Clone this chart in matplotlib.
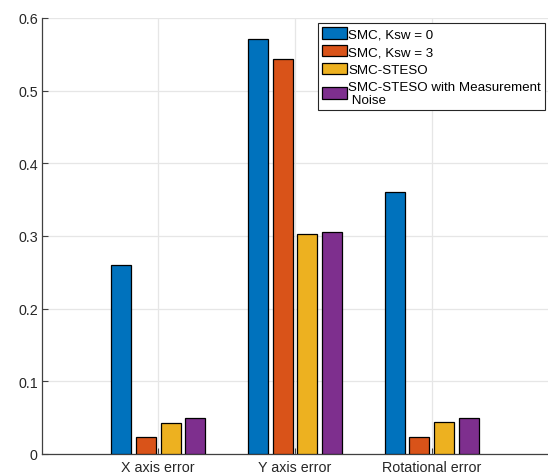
import matplotlib
matplotlib.use("Agg")
import matplotlib.pyplot as plt
import numpy as np

plt.rcParams['font.family'] = ['Liberation Sans', 'DejaVu Sans']

categories = ["X axis error", "Y axis error", "Rotational error"]
series_names = ["SMC, Ksw = 0", "SMC, Ksw = 3", "SMC-STESO",
                "SMC-STESO with Measurement\n Noise"]
smc_ksw0 = [0.260, 0.571, 0.360]
smc_ksw3 = [0.024, 0.544, 0.023]
smc_steso = [0.043, 0.303, 0.044]
smc_steso_noise = [0.049, 0.306, 0.050]
colors = ["#0072BD", "#D95319", "#EDB120", "#7E2F8E"]

series = [smc_ksw0, smc_ksw3, smc_steso, smc_steso_noise]

fig = plt.figure(figsize=(5.48, 4.77), dpi=100)
ax = fig.add_axes([42/548, 1-455/477, 1-42/548, (455-19)/477])

x = np.arange(1, len(categories)+1)
step = 0.181
width = 0.145
for i, (vals, c, name) in enumerate(zip(series, colors, series_names)):
    ax.bar(x + (i-1.5)*step, vals, width, color=c, edgecolor='black',
           linewidth=0.9, label=name, zorder=3)

ax.set_xlim(0.15, 3.85)
ax.set_ylim(0, 0.6)
ax.set_xticks(x)
ax.set_xticklabels(categories)
ax.set_yticks([0, 0.1, 0.2, 0.3, 0.4, 0.5, 0.6])
ax.set_yticklabels(["0", "0.1", "0.2", "0.3", "0.4", "0.5", "0.6"])
ax.grid(True, color='#e6e6e6', linewidth=0.9, zorder=0)
ax.set_axisbelow(True)
for s in ['top', 'right']:
    ax.spines[s].set_visible(False)
for s in ['left', 'bottom']:
    ax.spines[s].set_color('#404040')
    ax.spines[s].set_linewidth(0.9)
ax.tick_params(direction='in', length=4, width=0.8, colors='#404040',
               labelcolor='#262626', labelsize=10.3)
ax.tick_params(axis='x', pad=4.5)
ax.tick_params(axis='y', pad=3)

leg = ax.legend(loc='upper left', bbox_to_anchor=(318/548, 1-24/477),
                bbox_transform=fig.transFigure, fontsize=9.6,
                frameon=True, fancybox=False, framealpha=1,
                edgecolor='#262626', handlelength=1.85, handleheight=0.95,
                handletextpad=0.1, labelspacing=0.34, borderpad=0.3,
                borderaxespad=0)
leg.get_frame().set_linewidth(0.8)
for t in leg.get_texts():
    t.set_color('black')
    t.set_linespacing(1.1)

fig.savefig("out.png", dpi=100)
